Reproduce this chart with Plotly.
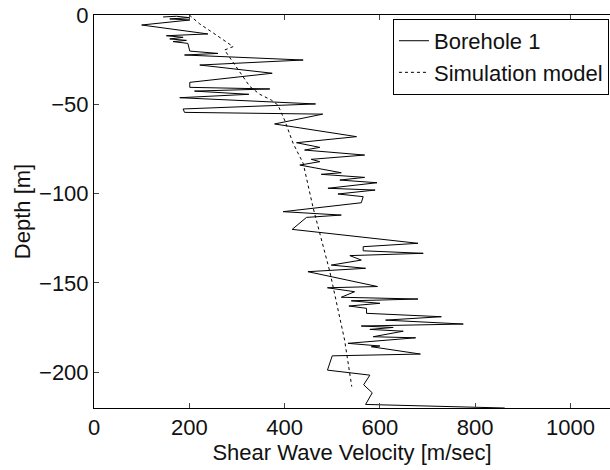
import plotly.graph_objects as go

# Borehole 1 measured profile
bh_velocity = [145, 173, 201, 159, 201, 100, 239, 152, 187, 159, 194, 166, 197, 201, 260, 190, 439,
               222, 374, 201, 201, 369, 211, 325, 180, 465, 187, 190, 480, 379, 551, 425, 474, 442,
               568, 456, 474, 432, 519, 477, 568, 516, 594, 491, 590, 512, 565, 561, 397, 519, 446,
               416, 680, 565, 565, 691, 537, 561, 498, 570, 449, 595, 490, 547, 519, 680, 540, 600,
               535, 572, 572, 729, 612, 775, 561, 628, 579, 649, 586, 675, 533, 600, 582, 685, 500,
               490, 579, 566, 584, 570, 862]
bh_depth = [-1.1, -0.7, -1.5, -2.2, -2.8, -5.6, -10.6, -11.6, -12.5, -13.4, -14.2, -14.9, -15.9,
            -20.2, -21.5, -22.4, -25.2, -28.0, -32.6, -37.7, -40.5, -41.4, -42.6, -44.4, -46.3,
            -49.8, -52.6, -54.5, -55.5, -61.0, -68.1, -71.5, -74.1, -75.6, -78.4, -80.8, -82.1,
            -84.0, -88.3, -89.2, -90.9, -92.4, -93.9, -97.0, -98.0, -100.2, -101.7, -105.1,
            -110.1, -112.0, -113.3, -120.0, -127.8, -129.7, -132.0, -133.4, -134.7, -137.2,
            -140.0, -141.8, -143.7, -152.0, -152.7, -154.9, -158.0, -159.0, -160.0, -161.4,
            -162.9, -164.2, -167.0, -168.9, -170.8, -173.0, -174.1, -174.9, -176.0, -177.0,
            -180.1, -180.7, -183.8, -185.3, -185.7, -189.8, -190.8, -198.8, -201.6, -207.0,
            -211.5, -218.0, -220.0]

# Simulation model profile
sim_velocity = [200, 222, 250, 275, 292, 274, 299, 313, 327, 348, 372, 386, 393, 400, 418, 439,
                460, 481, 495, 526, 541]
sim_depth = [0, -5, -10, -14.5, -17.7, -19.6, -28.9, -34.5, -40, -44.4, -47.6, -50.4, -55, -58.8,
             -71.9, -83, -108, -129.7, -143.7, -182, -208]

x_ticks = [0, 200, 400, 600, 800, 1000]
y_ticks = [0, -50, -100, -150, -200]
y_tick_text = ["0", "\u221250", "\u2212100", "\u2212150", "\u2212200"]

font_family = "Liberation Sans, Arial, sans-serif"

fig = go.Figure()
fig.add_trace(go.Scatter(x=bh_velocity, y=bh_depth, mode="lines", name="Borehole 1",
                         line=dict(color="black", width=1)))
fig.add_trace(go.Scatter(x=sim_velocity, y=sim_depth, mode="lines", name="Simulation model",
                         line=dict(color="black", width=1, dash="3px,3px")))

fig.update_layout(
    width=610, height=470,
    margin=dict(l=94, r=0, t=15, b=62),
    paper_bgcolor="white", plot_bgcolor="white",
    font=dict(family=font_family, size=22, color="#111"),
    showlegend=True,
    legend=dict(x=0.998, y=0.99, xanchor="right", yanchor="top",
                bgcolor="white", bordercolor="black", borderwidth=1,
                font=dict(size=22, color="#111"), itemwidth=30,
                tracegroupgap=0),
    xaxis=dict(range=[0, 1083], tickvals=x_ticks, ticks="inside", ticklen=5,
               showline=True, linecolor="black", linewidth=1, mirror="allticks",
               showgrid=False, zeroline=False,
               title=dict(text="Shear Wave Velocity [m/sec]", font=dict(size=22), standoff=5)),
    yaxis=dict(range=[-220, 0], tickvals=y_ticks, ticktext=y_tick_text, ticks="inside", ticklen=5,
               showline=True, linecolor="black", linewidth=1,
               showgrid=False, zeroline=False,
               title=dict(text="Depth [m]", font=dict(size=22), standoff=2)),
)

fig.write_html("out.html")
